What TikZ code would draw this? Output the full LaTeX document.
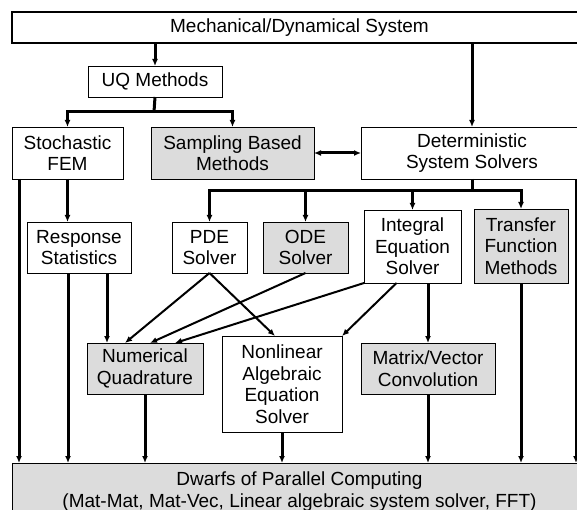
\documentclass[tikz,border=0pt]{standalone}
\usepackage{fontspec}
\setmainfont{Liberation Sans}
\usepackage{xcolor}
\definecolor{boxgray}{RGB}{220,220,220}
\usepackage{tikz}
\usetikzlibrary{arrows.meta}

\begin{document}
\begin{tikzpicture}[x=1pt,y=-1pt,
  every node/.style={font=\fontsize{19}{21.5}\selectfont,align=center,inner sep=0pt,outer sep=0pt},
  box/.style={draw,line width=0.9pt,fill=white},
  gbox/.style={box,fill=boxgray},
  conn/.style={line width=3pt,-{Latex[length=7pt,width=6pt]}},
  diag/.style={line width=2pt,-{Latex[length=7pt,width=6pt]}}]
\clip (0,0) rectangle (577,510);
% boxes
\node[box,line width=1.8pt,minimum width=575pt,minimum height=31pt] (sys) at (299.5,27.5) {Mechanical/Dynamical System};
\node[box,minimum width=134pt,minimum height=31pt] (uq) at (155,81.5) {UQ Methods};
\node[box,minimum width=111pt,minimum height=52pt] (sfem) at (67.5,153) {Stochastic\\FEM};
\node[gbox,minimum width=163pt,minimum height=52pt] (sbm) at (232.5,153) {Sampling Based\\Methods};
\node[box,minimum width=222pt,minimum height=52pt] (dss) at (472,153) {Deterministic\\System Solvers};
\node[box,minimum width=104pt,minimum height=51pt] (resp) at (79,247.5) {Response\\Statistics};
\node[box,minimum width=75pt,minimum height=51pt] (pde) at (209.5,247.5) {PDE\\Solver};
\node[gbox,minimum width=85pt,minimum height=51pt] (ode) at (305.5,247.5) {ODE\\Solver};
\node[box,minimum width=97pt,minimum height=73pt] (ies) at (412.5,246.5) {Integral\\Equation\\Solver};
\node[gbox,minimum width=94pt,minimum height=74pt] (tfm) at (521,246) {Transfer\\Function\\Methods};
\node[gbox,minimum width=116pt,minimum height=51pt] (nq) at (145,368.5) {Numerical\\Quadrature};
\node[box,minimum width=120pt,minimum height=96pt] (nae) at (282,384) {Nonlinear\\Algebraic\\Equation\\Solver};
\node[gbox,minimum width=134pt,minimum height=51pt] (mvc) at (428,368.5) {Matrix/Vector\\Convolution};
\node[gbox,minimum width=575pt,minimum height=57pt] (dwarf) at (299.5,491.5) {Dwarfs of Parallel Computing\\(Mat-Mat, Mat-Vec, Linear algebraic system solver, FFT)};
% top level
\coordinate (uqsplit) at (154,112);
\coordinate (dsssplit) at (472,191);
\draw[conn] (sys.south -| uq.north) -- (uq.north);
\draw[conn] (sys.south -| dss.north) -- (dss.north);
\draw[line width=3pt] (uq.south) -- (uqsplit);
\draw[conn] (uqsplit) -| (sfem.north);
\draw[conn] (uqsplit) -| (sbm.north);
\draw[line width=3pt,{Latex[length=7pt,width=6pt]}-{Latex[length=7pt,width=6pt]}] (sbm.east) -- (dss.west);
% solvers
\draw[line width=3pt] (dss.south) -- (dsssplit);
\foreach \n in {pde,ode,ies,tfm}
  \draw[conn] (dsssplit) -| (\n.north);
\draw[conn] (sfem.south) -- (sfem.south |- resp.north);
% into quadrature and nonlinear solver
\draw[conn] ([xshift=28pt]resp.south) -- ([xshift=28pt]resp.south |- nq.north);
\draw[diag] (pde.south) -- ([xshift=-20pt]nq.north);
\draw[diag] (ode.south) -- ([xshift=5pt]nq.north);
\draw[diag] (ies.south west) -- ([xshift=30pt]nq.north);
\draw[diag] (pde.south) -- ([xshift=-7pt]nae.north);
\draw[diag] ([xshift=-16pt]ies.south) -- (nae.north east);
\draw[conn] (mvc.north |- ies.south) -- (mvc.north);
% down to the dwarfs
\draw[conn] ([xshift=7pt]sfem.south west) -- ([xshift=7pt]sfem.south west |- dwarf.north);
\draw[conn] ([xshift=-11pt]resp.south) -- ([xshift=-11pt]resp.south |- dwarf.north);
\foreach \n in {nq,nae,mvc,tfm}
  \draw[conn] (\n.south) -- (\n.south |- dwarf.north);
\draw[conn] ([xshift=-7pt]dss.south east) -- ([xshift=-7pt]dss.south east |- dwarf.north);
\end{tikzpicture}
\end{document}
